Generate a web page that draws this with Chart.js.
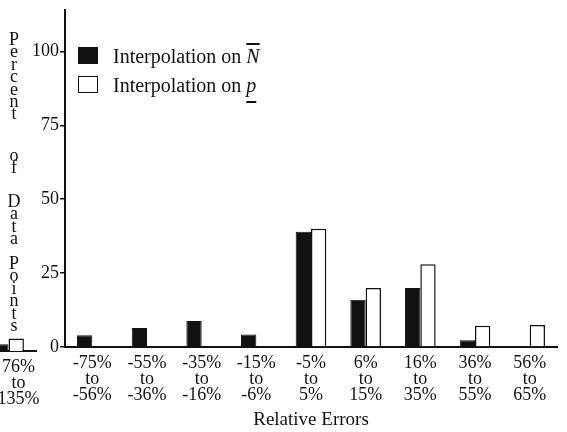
<!DOCTYPE html>
<html>
<head>
<meta charset="utf-8">
<script src="https://cdn.jsdelivr.net/npm/chart.js@4.4.1/dist/chart.umd.min.js"></script>
<style>
  html, body { margin: 0; padding: 0; background: #fff; }
  body {
    width: 567px; height: 432px; position: relative; overflow: hidden;
    font-family: "Liberation Serif", "DejaVu Serif", serif; color: #111;
  }
  canvas { position: absolute; }
  #main { left: 0; top: 0; }
  #side { left: -19px; top: 4px; }
  .yword {
    position: absolute; left: 5px; width: 18px;
    writing-mode: vertical-lr; text-orientation: upright;
    font-size: 18px; line-height: 18px; letter-spacing: -7.6px;
  }
  #legend { position: absolute; left: 78px; top: 41px; font-size: 20px; line-height: 20px; }
  #legend .row { display: flex; align-items: center; height: 29px; }
  #legend .swatch { width: 18px; height: 15px; border: 1.5px solid #111; margin-right: 15px; box-sizing: content-box; }
  #legend .sym { font-style: italic; }
</style>
</head>
<body>
<canvas id="side" width="80" height="432"></canvas>
<canvas id="main" width="567" height="432"></canvas>
<div class="yword" style="top:29px">Percent</div>
<div class="yword" style="top:145px">of</div>
<div class="yword" style="top:191px">Data</div>
<div class="yword" style="top:253px">Points</div>
<div id="legend"></div>
<script>
// Error classes; the first one (76% to 135%) sits in its own panel left of the axis.
const categories = [
  ['76%', 'to', '135%'],
  ['-75%', 'to', '-56%'],
  ['-55%', 'to', '-36%'],
  ['-35%', 'to', '-16%'],
  ['-15%', 'to', '-6%'],
  ['-5%', 'to', '5%'],
  ['6%', 'to', '15%'],
  ['16%', 'to', '35%'],
  ['36%', 'to', '55%'],
  ['56%', 'to', '65%']
];

// Percent of data points in each error class
const interpN = [2.3, 4, 6.4, 8.8, 4.2, 39, 16, 20, 2.3, 0];
const interpP = [4.2, 0, 0, 0, 0, 40, 20, 28, 7.2, 7.4];

const seriesNames = ['Interpolation on', 'Interpolation on'];
const seriesSymbols = ['N', 'p'];
const symbolMarks = ['overline', 'underline'];

const yTicks = [0, 25, 50, 75, 100];
const yMax = 114;

Chart.defaults.font.family = '"Liberation Serif", "DejaVu Serif", serif';
Chart.defaults.color = '#111';

const ink = '#111';

function datasets(from, to) {
  return [
    {
      label: seriesNames[0] + ' ' + seriesSymbols[0],
      data: interpN.slice(from, to),
      backgroundColor: ink,
      borderColor: ink,
      borderWidth: 1
    },
    {
      label: seriesNames[1] + ' ' + seriesSymbols[1],
      data: interpP.slice(from, to),
      backgroundColor: '#fff',
      borderColor: ink,
      borderWidth: 1.5
    }
  ];
}

const xTickFont = { size: 18, lineHeight: '16px' };
const titleFont = { size: 19, lineHeight: '19px' };
const titlePad = { top: 8, bottom: 0 };
const mainBottomPad = 2;

const common = {
  responsive: false,
  animation: false,
  events: [],
  plugins: { legend: { display: false }, tooltip: { enabled: false } },
  datasets: { bar: { categoryPercentage: 0.56, barPercentage: 1 } }
};

// Main panel
const mainChart = new Chart(document.getElementById('main'), {
  type: 'bar',
  data: { labels: categories.slice(1), datasets: datasets(1) },
  options: {
    ...common,
    layout: { padding: { top: 10, right: 10, bottom: mainBottomPad, left: 0 } },
    scales: {
      x: {
        grid: { display: false },
        border: { display: true, color: ink, width: 2 },
        ticks: { font: xTickFont, padding: 0, maxRotation: 0, autoSkip: false, color: ink },
        title: {
          display: true, text: 'Relative Errors', color: ink,
          font: titleFont, padding: titlePad
        }
      },
      y: {
        min: 0, max: yMax,
        afterFit: (s) => { s.width = 65; },
        afterBuildTicks: (s) => { s.ticks = yTicks.map(v => ({ value: v })); },
        grid: { drawOnChartArea: false, drawTicks: true, tickLength: 5, color: ink, lineWidth: 1.5 },
        border: { display: true, color: ink, width: 2 },
        ticks: { font: { size: 18, lineHeight: 1 }, padding: 1, color: ink }
      }
    }
  }
});

// Overflow panel for the widest error class; bottom padding stands in for the axis title
new Chart(document.getElementById('side'), {
  type: 'bar',
  data: { labels: categories.slice(0, 1), datasets: datasets(0, 1) },
  options: {
    ...common,
    layout: {
      padding: {
        top: 10, right: 25, left: 0,
        bottom: mainBottomPad + titleFont.size + titlePad.top + titlePad.bottom
      }
    },
    scales: {
      x: {
        grid: { display: false },
        border: { display: true, color: ink, width: 2 },
        ticks: { font: xTickFont, padding: 0, maxRotation: 0, autoSkip: false, labelOffset: 10, color: ink }
      },
      y: { display: false, min: 0, max: yMax }
    }
  }
});

// Legend built from the main chart's datasets
const legend = document.getElementById('legend');
mainChart.data.datasets.forEach((ds, i) => {
  const row = document.createElement('div');
  row.className = 'row';
  const sw = document.createElement('span');
  sw.className = 'swatch';
  sw.style.background = ds.backgroundColor;
  const txt = document.createElement('span');
  txt.textContent = seriesNames[i] + ' ';
  const sym = document.createElement('span');
  sym.className = 'sym';
  sym.textContent = seriesSymbols[i];
  sym.style.textDecoration = symbolMarks[i];
  sym.style.textDecorationThickness = '1.5px';
  if (symbolMarks[i] === 'underline') sym.style.textUnderlineOffset = '9px';
  txt.appendChild(sym);
  row.appendChild(sw);
  row.appendChild(txt);
  legend.appendChild(row);
});
</script>
</body>
</html>
